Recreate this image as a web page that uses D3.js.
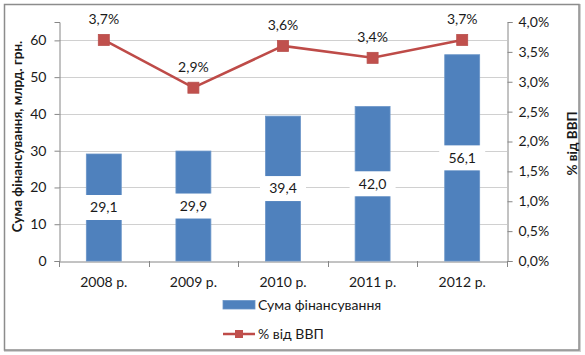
<!DOCTYPE html>
<html><head><meta charset="utf-8">
<script src="https://cdn.jsdelivr.net/npm/d3@7"></script>
<style>body{margin:0;background:#fff}svg{display:block}text{font-family:Lato,"Open Sans",sans-serif;fill:#1a1a1a}</style>
</head><body>
<svg id="c" width="585" height="355"></svg>
<script>
const categories = ["2008 р.","2009 р.","2010 р.","2011 р.","2012 р."];
const funding = [29.1, 29.9, 39.4, 42.0, 56.1];
const fundingLabels = ["29,1","29,9","39,4","42,0","56,1"];
const gdpShare = [3.7, 2.9, 3.6, 3.4, 3.7];
const gdpLabels = ["3,7%","2,9%","3,6%","3,4%","3,7%"];
const leftTicks = [0,10,20,30,40,50,60];
const rightTicks = [0,0.5,1,1.5,2,2.5,3,3.5,4];
const rightTickLabels = ["0,0%","0,5%","1,0%","1,5%","2,0%","2,5%","3,0%","3,5%","4,0%"];
const seriesNames = ["Сума фінансування","% від ВВП"];
const leftTitle = "Сума фінансування, млрд. грн.";
const rightTitle = "% від ВВП";

const svg = d3.select("#c");
const L=59, R=507, T=22, B=261;
const x = d3.scaleBand().domain(categories).range([L,R]).padding(0);
const yL = d3.scaleLinear().domain([0,65]).range([B,T]);
const yR = d3.scaleLinear().domain([0,4]).range([B,T]);
const bw = x.bandwidth()*0.39;
const cx = c => x(c)+x.bandwidth()/2;

// border
svg.append("rect").attr("x",5).attr("y",5).attr("width",575).attr("height",346).attr("fill","none").attr("stroke","#d0d0d0").attr("stroke-width",2);
svg.append("rect").attr("x",4.5).attr("y",4.5).attr("width",574.5).attr("height",345.5).attr("fill","#fff").attr("stroke","#8c8c8c").attr("stroke-width",1.5);

// gridlines
svg.append("g").selectAll("line").data(leftTicks.filter(d=>d>0)).join("line")
  .attr("x1",L).attr("x2",R).attr("y1",d=>Math.round(yL(d))+0.5).attr("y2",d=>Math.round(yL(d))+0.5)
  .attr("stroke","#d0d0d0").attr("stroke-width",1);

// left axis
const gl = svg.append("g").attr("transform",`translate(${L+0.5},0)`)
  .call(d3.axisLeft(yL).tickValues(leftTicks).tickSize(5).tickPadding(8).tickFormat(d=>d));
gl.select(".domain").attr("stroke","#868686");
gl.selectAll(".tick line").attr("stroke","#868686");
gl.selectAll(".tick text").attr("font-size",14).attr("font-family","Lato").attr("fill","#1a1a1a");

// right axis
const gr = svg.append("g").attr("transform",`translate(${R+0.5},0)`)
  .call(d3.axisRight(yR).tickValues(rightTicks).tickSize(5).tickPadding(6).tickFormat((d,i)=>rightTickLabels[i]));
gr.select(".domain").attr("stroke","#868686");
gr.selectAll(".tick line").attr("stroke","#868686");
gr.selectAll(".tick text").attr("font-size",14).attr("font-family","Lato").attr("fill","#1a1a1a");

// bottom axis
const gb = svg.append("g").attr("transform",`translate(0,${B+0.5})`)
  .call(d3.axisBottom(x).tickSize(0).tickPadding(16));
gb.select(".domain").attr("stroke","#868686");
gb.selectAll(".tick text").attr("font-size",14).attr("font-family","Lato").attr("fill","#1a1a1a");
svg.append("g").selectAll("line").data(categories.concat(["end"])).join("line")
  .attr("x1",(d,i)=>Math.round(L + i*x.bandwidth())+0.5).attr("x2",(d,i)=>Math.round(L + i*x.bandwidth())+0.5)
  .attr("y1",B).attr("y2",B+6).attr("stroke","#868686");

// bars
svg.append("g").selectAll("rect").data(funding).join("rect")
  .attr("x",(d,i)=>cx(categories[i])-bw/2).attr("width",bw)
  .attr("y",d=>yL(d)).attr("height",d=>B-yL(d))
  .attr("fill","#4F81BD").attr("stroke","#6a95c8").attr("stroke-width",0.8);

// bar labels with white boxes
const bl = svg.append("g").selectAll("g").data(funding).join("g")
  .attr("transform",(d,i)=>`translate(${cx(categories[i])},${yL(d/2)})`);
bl.append("rect").attr("x",-23).attr("y",-12.5).attr("width",46).attr("height",25).attr("fill","#fff");
bl.append("text").attr("text-anchor","middle").attr("dy","0.35em").attr("font-size",14)
  .text((d,i)=>fundingLabels[i]);

// line
const line = d3.line().x((d,i)=>cx(categories[i])).y(d=>yR(d));
svg.append("path").datum(gdpShare).attr("d",line).attr("fill","none").attr("stroke","#BE4B48").attr("stroke-width",2.5);
svg.append("g").selectAll("rect").data(gdpShare).join("rect")
  .attr("x",(d,i)=>cx(categories[i])-5.5).attr("y",d=>yR(d)-5.5).attr("width",11).attr("height",11)
  .attr("fill","#C0504D").attr("stroke","#B8504D").attr("stroke-width",0.8);
svg.append("g").selectAll("text").data(gdpShare).join("text")
  .attr("x",(d,i)=>cx(categories[i])).attr("y",d=>yR(d)-21).attr("dy","0.35em")
  .attr("text-anchor","middle").attr("font-size",14).text((d,i)=>gdpLabels[i]);

// axis titles
svg.append("text").attr("transform",`translate(17,${(T+B)/2-5}) rotate(-90)`).attr("dy","0.35em")
  .attr("text-anchor","middle").attr("font-size",13.5).attr("font-weight","bold").text(leftTitle);
svg.append("text").attr("transform",`translate(572,${(T+B)/2+2}) rotate(-90)`).attr("dy","0.35em")
  .attr("text-anchor","middle").attr("font-size",13.5).attr("font-weight","bold").text(rightTitle);

// legend
const lg = svg.append("g");
lg.append("rect").attr("x",223).attr("y",300.5).attr("width",32).attr("height",8.5).attr("fill","#4F81BD").attr("stroke","#6a95c8").attr("stroke-width",0.8);
lg.append("text").attr("x",258).attr("y",305).attr("dy","0.35em").attr("font-size",14).text(seriesNames[0]);
lg.append("line").attr("x1",223).attr("x2",255).attr("y1",334).attr("y2",334).attr("stroke","#BE4B48").attr("stroke-width",2.5);
lg.append("rect").attr("x",235).attr("y",330).attr("width",8).attr("height",8).attr("fill","#C0504D");
lg.append("text").attr("x",258).attr("y",334).attr("dy","0.35em").attr("font-size",14).text(seriesNames[1]);
</script>
</body></html>
